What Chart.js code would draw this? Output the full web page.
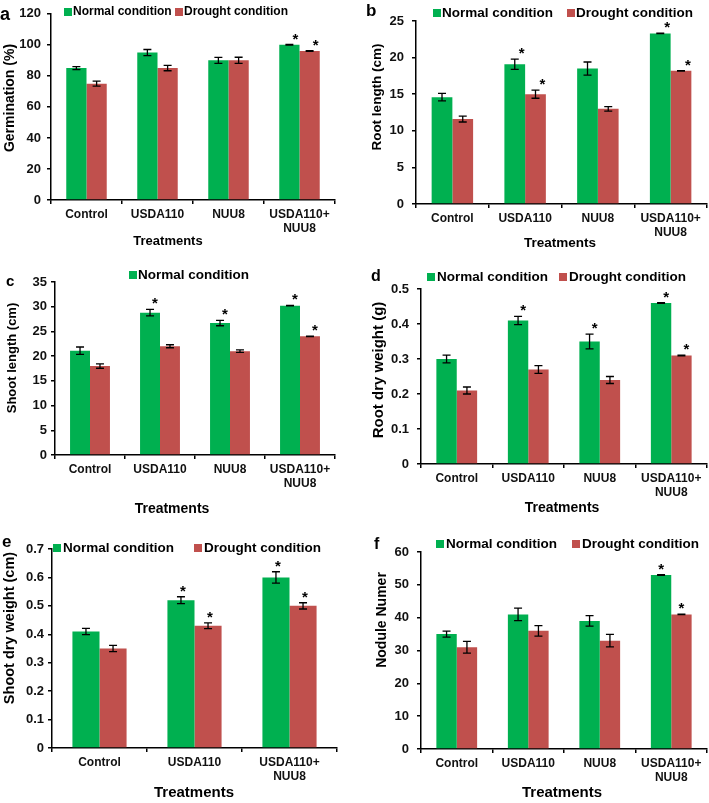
<!DOCTYPE html>
<html>
<head>
<meta charset="utf-8">
<script src="https://cdn.jsdelivr.net/npm/chart.js@4.4.0/dist/chart.umd.min.js"></script>
<style>
body { margin: 0; background: #fff; width: 709px; height: 803px; position: relative; overflow: hidden; }
canvas { position: absolute; }
</style>
</head>
<body>
<canvas id="pa" width="354" height="250" style="left:0;top:0"></canvas>
<canvas id="pb" width="355" height="250" style="left:354px;top:0"></canvas>
<canvas id="pc" width="354" height="270" style="left:0;top:250px"></canvas>
<canvas id="pd" width="355" height="270" style="left:354px;top:250px"></canvas>
<canvas id="pe" width="354" height="293" style="left:0;top:510px"></canvas>
<canvas id="pf" width="355" height="293" style="left:354px;top:510px"></canvas>
<script>
var FONT = "'Liberation Sans', Arial, sans-serif";
var GREEN = '#00B050';
var RED = '#C0504D';

var treatments4 = ['Control', 'USDA110', 'NUU8', ['USDA110+', 'NUU8']];
var treatments3 = ['Control', 'USDA110', ['USDA110+', 'NUU8']];
var seriesNames = ['Normal condition', 'Drought condition'];

// a - germination (%)
var germNormal = [85, 95, 90, 100];
var germNormalErr = [1, 2, 1.9, 0.2];
var germDrought = [75, 85, 90, 96];
var germDroughtErr = [1.6, 1.7, 2, 0.2];
var germNormalSig = [0, 0, 0, 1];
var germDroughtSig = [0, 0, 0, 1];

// b - root length (cm)
var rootLenNormal = [14.6, 19.1, 18.5, 23.3];
var rootLenNormalErr = [0.5, 0.7, 0.9, 0.03];
var rootLenDrought = [11.6, 15.0, 13.0, 18.2];
var rootLenDroughtErr = [0.4, 0.55, 0.3, 0.03];
var rootLenNormalSig = [0, 1, 0, 1];
var rootLenDroughtSig = [0, 1, 0, 1];

// c - shoot length (cm)
var shootLenNormal = [21.1, 28.8, 26.7, 30.2];
var shootLenNormalErr = [0.75, 0.65, 0.55, 0.05];
var shootLenDrought = [18.0, 22.0, 21.0, 24.0];
var shootLenDroughtErr = [0.45, 0.3, 0.25, 0.05];
var shootLenNormalSig = [0, 1, 1, 1];
var shootLenDroughtSig = [0, 0, 0, 1];

// d - root dry weight (g)
var rootDwNormal = [0.30, 0.41, 0.35, 0.46];
var rootDwNormalErr = [0.011, 0.012, 0.021, 0.001];
var rootDwDrought = [0.21, 0.27, 0.24, 0.31];
var rootDwDroughtErr = [0.01, 0.011, 0.01, 0.001];
var rootDwNormalSig = [0, 1, 1, 1];
var rootDwDroughtSig = [0, 0, 0, 1];

// e - shoot dry weight
var shootDwNormal = [0.41, 0.52, 0.60];
var shootDwNormalErr = [0.011, 0.012, 0.02];
var shootDwDrought = [0.35, 0.43, 0.50];
var shootDwDroughtErr = [0.011, 0.01, 0.011];
var shootDwNormalSig = [0, 1, 1];
var shootDwDroughtSig = [0, 1, 1];

// f - nodule number
var noduleNormal = [35, 41, 39, 53];
var noduleNormalErr = [0.9, 1.9, 1.6, 0.1];
var noduleDrought = [31, 36, 33, 41];
var noduleDroughtErr = [1.8, 1.6, 1.9, 0.1];
var noduleNormalSig = [0, 0, 0, 1];
var noduleDroughtSig = [0, 0, 0, 1];

function makeExtras(p) {
    return {
        id: 'extras',
        afterDatasetsDraw: function (chart) {
            var ctx = chart.ctx;
            var yScale = chart.scales.y;
            var errs = [p.normalErr, p.droughtErr];
            var sigs = [p.normalSig, p.droughtSig];
            ctx.save();
            ctx.strokeStyle = '#000';
            ctx.fillStyle = '#000';
            ctx.lineWidth = 1.3;
            ctx.font = 'bold 15px ' + FONT;
            ctx.textAlign = 'center';
            ctx.textBaseline = 'alphabetic';
            chart.data.datasets.forEach(function (ds, di) {
                var meta = chart.getDatasetMeta(di);
                meta.data.forEach(function (bar, i) {
                    var v = ds.data[i];
                    var e = errs[di][i];
                    var top = yScale.getPixelForValue(v + e);
                    var bot = yScale.getPixelForValue(v - e);
                    ctx.beginPath();
                    ctx.moveTo(bar.x, top);
                    ctx.lineTo(bar.x, bot);
                    ctx.moveTo(bar.x - 4, top);
                    ctx.lineTo(bar.x + 4, top);
                    ctx.moveTo(bar.x - 4, bot);
                    ctx.lineTo(bar.x + 4, bot);
                    ctx.stroke();
                    if (sigs[di][i]) {
                        ctx.fillText('*', bar.x + p.starDx, top - 1);
                    }
                });
            });
            ctx.restore();
        },
        afterDraw: function (chart) {
            var ctx = chart.ctx;
            ctx.save();
            ctx.fillStyle = '#000';
            // panel letter
            ctx.font = 'bold ' + p.letterSize + 'px ' + FONT;
            ctx.textAlign = 'left';
            ctx.textBaseline = 'middle';
            ctx.fillText(p.letter, p.letterPos[0], p.letterPos[1]);
            // legend
            ctx.font = 'bold ' + p.legendSize + 'px ' + FONT;
            p.legendX.forEach(function (lx, k) {
                if (lx === null) return;
                var ds = chart.data.datasets[k];
                ctx.fillStyle = ds.backgroundColor;
                ctx.fillRect(lx, p.legendY - 4, 8, 8);
                ctx.fillStyle = '#000';
                ctx.fillText(ds.label, lx + p.legendText, p.legendY);
            });
            // axis titles
            ctx.textAlign = 'center';
            ctx.font = 'bold ' + p.xTitleSize + 'px ' + FONT;
            ctx.fillText('Treatments', p.xTitlePos[0], p.xTitlePos[1]);
            ctx.translate(p.yTitlePos[0], p.yTitlePos[1]);
            ctx.rotate(-Math.PI / 2);
            ctx.font = 'bold ' + p.yTitleSize + 'px ' + FONT;
            ctx.fillText(p.yTitle, 0, 0);
            ctx.restore();
        }
    };
}

function makeChart(id, p) {
    var canvas = document.getElementById(id);
    var w = canvas.width, h = canvas.height;
    var tickFont = { family: FONT, size: 12, weight: 'bold' };
    return new Chart(canvas, {
        type: 'bar',
        data: {
            labels: p.labels,
            datasets: [
                { label: seriesNames[0], data: p.normal, backgroundColor: GREEN,
                  categoryPercentage: 0.57, barPercentage: 1.0 },
                { label: seriesNames[1], data: p.drought, backgroundColor: RED,
                  categoryPercentage: 0.57, barPercentage: 1.0 }
            ]
        },
        options: {
            responsive: false,
            animation: false,
            devicePixelRatio: 1,
            layout: { padding: { top: p.area[1], right: w - p.area[2], left: 0, bottom: 0 } },
            plugins: { legend: { display: false }, tooltip: { enabled: false } },
            scales: {
                x: {
                    grid: { display: true, drawOnChartArea: false, drawTicks: true, tickLength: 4,
                            color: '#000', lineWidth: 1.5 },
                    border: { display: true, color: '#000', width: 1.5 },
                    ticks: { font: tickFont, color: '#111', padding: 3, maxRotation: 0, autoSkip: false },
                    afterFit: function (s) { s.height = h - p.area[3]; }
                },
                y: {
                    min: 0,
                    max: p.max,
                    grid: { display: true, drawOnChartArea: false, drawTicks: true, tickLength: 4,
                            color: '#000', lineWidth: 1.5 },
                    border: { display: true, color: '#000', width: 1.5 },
                    ticks: { stepSize: p.step, font: { family: FONT, size: 13, weight: 'bold' },
                             color: '#111', padding: p.yPad },
                    afterFit: function (s) { s.width = p.area[0]; }
                }
            }
        },
        plugins: [makeExtras(p)]
    });
}

makeChart('pa', {
    labels: treatments4, normal: germNormal, drought: germDrought,
    normalErr: germNormalErr, droughtErr: germDroughtErr,
    normalSig: germNormalSig, droughtSig: germDroughtSig,
    max: 120, step: 20, area: [51, 11, 335, 200], yPad: 6, starDx: 6,
    letter: 'a', letterSize: 18, letterPos: [0, 15],
    legendX: [64, 175], legendY: 12, legendSize: 12, legendText: 9,
    xTitleSize: 13, xTitlePos: [168, 241],
    yTitle: 'Germination (%)', yTitleSize: 14, yTitlePos: [10, 98]
});

makeChart('pb', {
    labels: treatments4, normal: rootLenNormal, drought: rootLenDrought,
    normalErr: rootLenNormalErr, droughtErr: rootLenDroughtErr,
    normalSig: rootLenNormalSig, droughtSig: rootLenDroughtSig,
    max: 25, step: 5, area: [62, 21, 353, 204], yPad: 8, starDx: 7,
    letter: 'b', letterSize: 17, letterPos: [12, 11],
    legendX: [79, 213], legendY: 13, legendSize: 13.5, legendText: 9,
    xTitleSize: 13.5, xTitlePos: [206, 243],
    yTitle: 'Root length (cm)', yTitleSize: 13.5, yTitlePos: [23, 97]
});

makeChart('pc', {
    labels: treatments4, normal: shootLenNormal, drought: shootLenDrought,
    normalErr: shootLenNormalErr, droughtErr: shootLenDroughtErr,
    normalSig: shootLenNormalSig, droughtSig: shootLenDroughtSig,
    max: 35, step: 5, area: [55, 32, 335, 205], yPad: 4, starDx: 5,
    letter: 'c', letterSize: 15, letterPos: [6, 32],
    legendX: [129, null], legendY: 25, legendSize: 13.5, legendText: 9,
    xTitleSize: 14, xTitlePos: [172, 259],
    yTitle: 'Shoot length (cm)', yTitleSize: 13, yTitlePos: [12, 108]
});

makeChart('pd', {
    labels: treatments4, normal: rootDwNormal, drought: rootDwDrought,
    normalErr: rootDwNormalErr, droughtErr: rootDwDroughtErr,
    normalSig: rootDwNormalSig, droughtSig: rootDwDroughtSig,
    max: 0.5, step: 0.1, area: [67, 39, 353, 214], yPad: 8, starDx: 5,
    letter: 'd', letterSize: 16, letterPos: [17, 27],
    legendX: [73, 205], legendY: 27, legendSize: 13.5, legendText: 10,
    xTitleSize: 14, xTitlePos: [208, 258],
    yTitle: 'Root dry weight (g)', yTitleSize: 15, yTitlePos: [25, 120]
});

makeChart('pe', {
    labels: treatments3, normal: shootDwNormal, drought: shootDwDrought,
    normalErr: shootDwNormalErr, droughtErr: shootDwDroughtErr,
    normalSig: shootDwNormalSig, droughtSig: shootDwDroughtSig,
    max: 0.7, step: 0.1, area: [52, 39, 337, 238], yPad: 4, starDx: 2,
    letter: 'e', letterSize: 17, letterPos: [2, 32],
    legendX: [53, 194], legendY: 38, legendSize: 13.5, legendText: 10,
    xTitleSize: 15, xTitlePos: [194, 283],
    yTitle: 'Shoot dry weight (cm)', yTitleSize: 14.5, yTitlePos: [10, 118]
});

makeChart('pf', {
    labels: treatments4, normal: noduleNormal, drought: noduleDrought,
    normalErr: noduleNormalErr, droughtErr: noduleDroughtErr,
    normalSig: noduleNormalSig, droughtSig: noduleDroughtSig,
    max: 60, step: 10, area: [67, 42, 353, 239], yPad: 8, starDx: 0,
    letter: 'f', letterSize: 16, letterPos: [20, 35],
    legendX: [82, 218], legendY: 34, legendSize: 13.5, legendText: 10,
    xTitleSize: 15, xTitlePos: [208, 283],
    yTitle: 'Nodule Numer', yTitleSize: 14, yTitlePos: [28, 110]
});
</script>
</body>
</html>
